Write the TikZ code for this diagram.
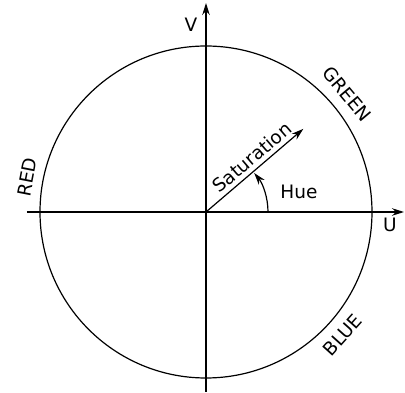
\documentclass[tikz,border=0pt]{standalone}
\usepackage{fontspec}
\setsansfont{DejaVu Sans}
\usetikzlibrary{arrows.meta}
\begin{document}
\begin{tikzpicture}[x=1pt,y=1pt,
  line/.style={line width=1.2pt},
  arr/.style={line, -{Stealth[length=12pt,width=7.5pt]}},
  lbl/.style={font=\sffamily\fontsize{18.5}{21}\selectfont, inner sep=0pt}]
\useasboundingbox (-206,-181) rectangle (199,212);
\coordinate (O) at (0,0);
\coordinate (ybot) at (0,-180);
\coordinate (ytop) at (0,209);
\coordinate (xl) at (-179,0);
\coordinate (xr) at (198,0);
\coordinate (sat) at (40.5:128);
\draw[line] (O) circle[radius=166];
\draw[arr] (ybot) -- (ytop);
\draw[arr] (xl) -- (xr);
\draw[arr] (O) -- node[pos=0.55, above=4pt, sloped, lbl] (satl) {Saturation} (sat);
\draw[arr] (62,0) arc[start angle=0, end angle=39, radius=62];
\node[lbl] (V) at (-15,187) {V};
\node[lbl] (U) at (184,-13) {U};
\node[lbl] (hue) at (93,20) {Hue};
\node[lbl, rotate=-50] (green) at (40:184) {GREEN};
\node[lbl, rotate=79] (red) at (169:182) {RED};
\node[lbl, rotate=48] (blue) at (-42:184) {BLUE};
\end{tikzpicture}
\end{document}
